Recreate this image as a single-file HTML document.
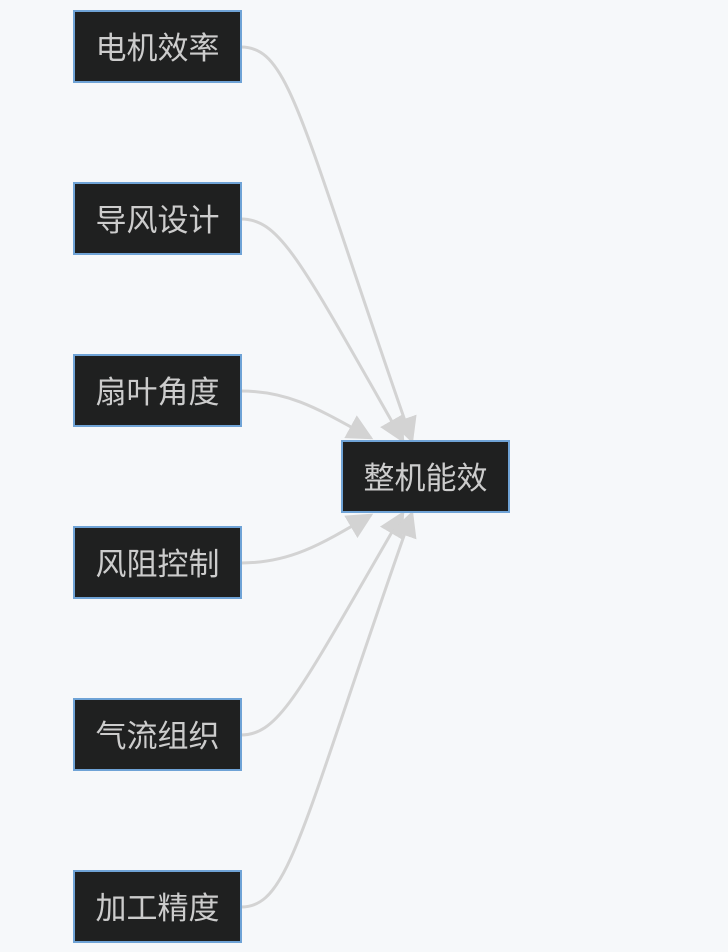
<html><body style="margin:0;width:728px;height:952px;background:#f6f8fa;position:relative;font-family:'Liberation Sans','Noto Sans CJK SC',sans-serif">
<svg width="728" height="952" style="position:absolute;left:0;top:0">
<defs>
<marker id="b" viewBox="0 0 10 10" refX="9" refY="5" markerWidth="26" markerHeight="26" orient="auto" markerUnits="userSpaceOnUse"><path d="M0,0L10,5L0,10z" fill="#d3d3d3"/></marker></defs>
<g fill="none" stroke="#d3d3d3" stroke-width="3">
<path d="M241,47C290,47 300,120 412,441" marker-end="url(#b)"/>
<path d="M241,219C280,219 300,260 403,441" marker-end="url(#b)"/>
<path d="M241,391C290,391 320,410 371,438" marker-end="url(#b)"/>
<path d="M241,563C290,563 320,545 371,515" marker-end="url(#b)"/>
<path d="M241,735C280,735 300,690 403,513" marker-end="url(#b)"/>
<path d="M241,907C290,907 300,830 412,513" marker-end="url(#b)"/>
</g></svg>
<style>.n{position:absolute;box-sizing:border-box;width:169px;height:73px;padding-bottom:3px;background:#1f2020;border:2px solid #6fa3d6;color:#ccc;font-size:31px;display:flex;align-items:center;justify-content:center}</style>
<div class="n" style="left:73px;top:10px">电机效率</div>
<div class="n" style="left:73px;top:182px">导风设计</div>
<div class="n" style="left:73px;top:354px">扇叶角度</div>
<div class="n" style="left:73px;top:526px">风阻控制</div>
<div class="n" style="left:73px;top:698px">气流组织</div>
<div class="n" style="left:73px;top:870px">加工精度</div>
<div class="n" style="left:341px;top:440px">整机能效</div>
</body></html>
